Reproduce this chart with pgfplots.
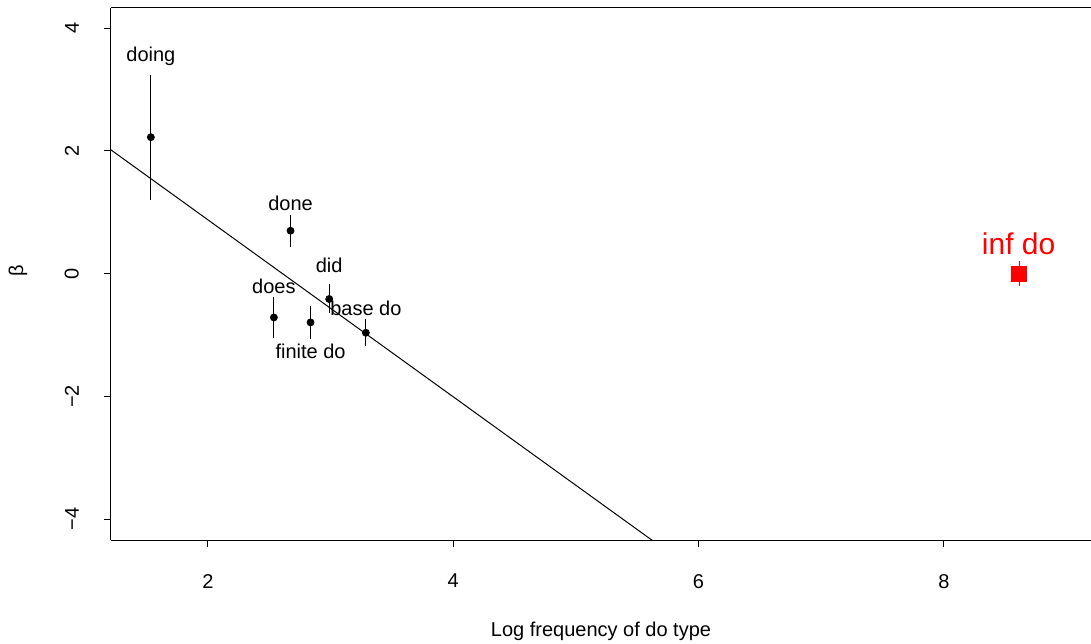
\documentclass[border=0pt]{standalone}
\usepackage{fontspec}
\setmainfont{Liberation Sans}
\usepackage{pgfplots}
\usepackage{pgfplotstable}
\pgfplotsset{compat=1.18}
\pgfplotstableread{
x y ep em
1.535 2.224 1.02 1.03
2.674 0.700 0.26 0.26
2.989 -0.413 0.25 0.23
2.538 -0.713 0.33 0.33
2.837 -0.794 0.27 0.27
3.288 -0.963 0.23 0.22
}\pts
\pgfplotstableread{
x y ep em
8.615 0.0 0.2 0.2
}\infpt
\pgfplotstableread{
x y label
1.535 3.545 doing
2.674 1.153 done
2.989 0.130 did
2.538 -0.207 does
3.288 -0.560 {base do}
2.837 -1.268 {finite do}
}\labs
\pgfplotstableread{
x y label
8.61 0.486 {inf do}
}\inflab
\begin{document}
\fontsize{10pt}{12pt}\selectfont
\begin{tikzpicture}
\begin{axis}[
  at={(0,0)}, anchor=south west,
  scale only axis, width=490pt, height=266pt,
  xmin=1.21, xmax=9.2, ymin=-4.34, ymax=4.33,
  axis x line*=bottom, axis y line*=left,
  axis line style={-, line width=0.5pt},
  xtick={2,4,6,8}, ytick={-4,-2,0,2,4},
  yticklabels={−4,−2,0,2,4},
  tick align=outside, major tick length=3.5pt,
  tick style={black, line width=0.5pt},
  /pgf/number format/assume math mode=true,
  tick label style={font=\fontsize{10pt}{12pt}\selectfont},
  xticklabel style={yshift=-10pt},
  yticklabel style={rotate=90, anchor=south, yshift=9pt},
  xlabel={Log frequency of do type},
  ylabel={β},
  every axis x label/.style={at={(axis description cs:0.5,0)}, anchor=center, yshift=-45.5pt, font=\fontsize{10pt}{12pt}\selectfont},
  every axis y label/.style={at={(axis description cs:0,0.5)}, rotate=90, anchor=center, yshift=46.5pt, xshift=1.5pt, font=\fontsize{10pt}{12pt}\selectfont},
  clip=true,
]
\addplot[black, line width=0.5pt, mark=none] coordinates {(1.0,2.32) (6.0,-4.89)};
\addplot[black, only marks, mark=*, mark size=1.75pt,
  error bars/.cd, y dir=both, y explicit, error mark=none,
  error bar style={line width=0.5pt}]
  table[x=x, y=y, y error plus=ep, y error minus=em] {\pts};
\addplot[red, only marks, mark=square*, mark size=3.75pt,
  error bars/.cd, y dir=both, y explicit, error mark=none,
  error bar style={line width=0.5pt}]
  table[x=x, y=y, y error plus=ep, y error minus=em] {\infpt};
\addplot[draw=none, mark=none, nodes near coords, point meta=explicit symbolic,
  every node near coord/.append style={anchor=center, inner sep=0pt, black, font=\fontsize{10pt}{12pt}\selectfont}]
  table[x=x, y=y, meta=label] {\labs};
\addplot[draw=none, mark=none, nodes near coords, point meta=explicit symbolic,
  every node near coord/.append style={anchor=center, inner sep=0pt, red, font=\fontsize{15pt}{18pt}\selectfont}]
  table[x=x, y=y, meta=label] {\inflab};
\draw[line width=0.5pt] (rel axis cs:0,1) -- (rel axis cs:1,1);
\end{axis}
\pgfresetboundingbox
\path (-55.5pt,-51.5pt) rectangle (490pt,270pt);
\end{tikzpicture}
\end{document}
